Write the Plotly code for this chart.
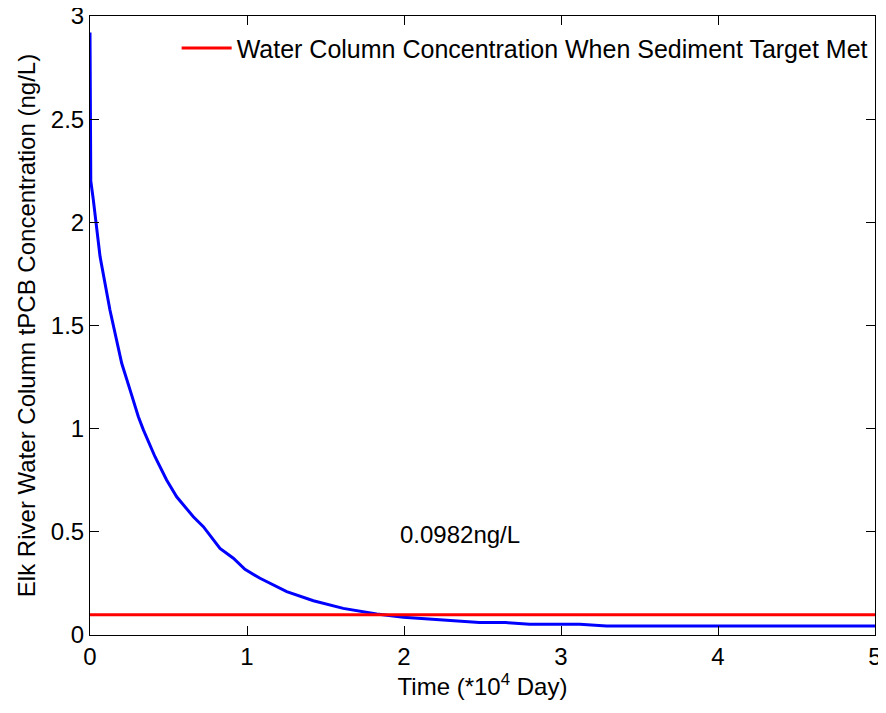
import plotly.graph_objects as go

# Time in units of 10^4 days
time = [0.0, 0.0, 0.005, 0.021, 0.064, 0.127, 0.202, 0.255, 0.308, 0.34, 0.414, 0.488, 0.552,
        0.658, 0.722, 0.828, 0.913, 0.987, 1.083, 1.253, 1.423, 1.613, 1.826, 1.996,
        2.23, 2.48, 2.65, 2.80, 3.12, 3.29, 4.0, 5.0]
concentration = [2.92, 2.92, 2.20, 2.11, 1.834, 1.575, 1.317, 1.188, 1.058, 0.994, 0.864, 0.751, 0.670,
                 0.573, 0.525, 0.420, 0.372, 0.318, 0.275, 0.210, 0.166, 0.129, 0.102, 0.086,
                 0.073, 0.060, 0.060, 0.052, 0.052, 0.044, 0.044, 0.044]

target_time = [0.0, 5.0]
target_value = 0.0982
target_label = "0.0982ng/L"

font_family = "Liberation Sans, Arial, sans-serif"
fs = 24

fig = go.Figure()
fig.add_trace(go.Scatter(x=time, y=concentration, mode="lines",
                         line=dict(color="#0000ff", width=3), showlegend=False))
fig.add_trace(go.Scatter(x=target_time, y=[target_value] * len(target_time), mode="lines",
                         line=dict(color="#ff0000", width=3),
                         name="Water Column Concentration When Sediment Target Met"))

fig.add_annotation(x=2.357, y=0.485, text=target_label, showarrow=False,
                   font=dict(size=fs, color="black", family=font_family))

axis_common = dict(showline=True, linecolor="black", linewidth=1, mirror="ticks",
                   ticks="inside", ticklen=9, tickcolor="black", showgrid=False,
                   zeroline=False, ticklabeloverflow="allow",
                   tickfont=dict(size=fs, color="black", family=font_family))

fig.update_xaxes(range=[0, 5], tickvals=[0, 1, 2, 3, 4, 5],
                 title=dict(text="Time (*10<sup>4</sup> Day)", font=dict(size=fs, color="black", family=font_family),
                            standoff=8),
                 **axis_common)
fig.update_yaxes(range=[0, 3], tickvals=[0, 0.5, 1, 1.5, 2, 2.5, 3],
                 ticktext=["0", "0.5", "1", "1.5", "2", "2.5", "3"],
                 title=dict(text="Elk River Water Column tPCB Concentration (ng/L)",
                            font=dict(size=fs, color="black", family=font_family), standoff=8),
                 **axis_common)

fig.update_layout(width=878, height=697, margin=dict(l=82, r=11, t=8, b=70, autoexpand=False),
                  plot_bgcolor="white", paper_bgcolor="white",
                  font=dict(family=font_family, color="black"),
                  legend=dict(x=0.997, y=0.985, xanchor="right", yanchor="top",
                              bgcolor="rgba(0,0,0,0)", font=dict(size=25, family=font_family),
                              itemwidth=50))

fig.write_html("out.html")
